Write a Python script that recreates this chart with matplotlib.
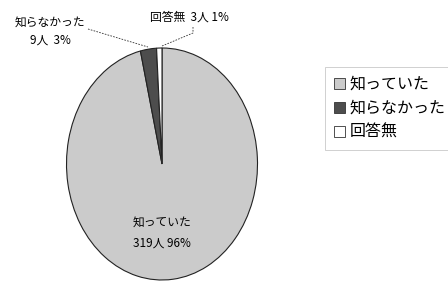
import matplotlib
matplotlib.use('Agg')
import matplotlib.pyplot as plt
from matplotlib.patches import Patch

plt.rcParams['font.family'] = ['Noto Sans CJK JP', 'DejaVu Sans']

labels = ['知っていた', '知らなかった', '回答無']
counts = [319, 9, 3]
percents = [96, 3, 1]
colors = ['#cbcbcb', '#4d4d4d', '#ffffff']

W, H = 448, 284
# ellipse of the pie in pixels
cx, cy, rx, ry = 162, 164, 95.5, 116


def fx(px):
	return px / W


def fy(py):
	return 1 - py / H


fig = plt.figure(figsize=(W / 100, H / 100), dpi=100)
ax = fig.add_axes([0, 0, 1, 1])
wedges, _ = ax.pie(counts, colors=colors, startangle=90, counterclock=False,
	wedgeprops=dict(edgecolor='#222222', linewidth=0.8))
ax.set_aspect('auto')
ax.set_xlim(-cx / rx, (W - cx) / rx)
ax.set_ylim((cy - H) / ry, cy / ry)
ax.axis('off')

# slice labels
fig.text(fx(50), fy(22), labels[1], ha='center', va='center', fontsize=8.5)
fig.text(fx(50), fy(40), '%d人  %d%%' % (counts[1], percents[1]), ha='center', va='center', fontsize=8.5)
fig.text(fx(150), fy(17), '%s  %d人 %d%%' % (labels[2], counts[2], percents[2]), ha='left', va='center', fontsize=8.5)
fig.text(fx(133), fy(222), labels[0], ha='left', va='center', fontsize=8.5)
fig.text(fx(133), fy(243), '%d人 %d%%' % (counts[0], percents[0]), ha='left', va='center', fontsize=8.5)

# leader lines
fig.add_artist(plt.Line2D([fx(88), fx(148)], [fy(29), fy(47)], color='#333333', lw=0.6, ls=(0, (2, 1.5))))
fig.add_artist(plt.Line2D([fx(193), fx(193), fx(162)], [fy(27), fy(33), fy(46)], color='#333333', lw=0.6, ls=(0, (2, 1.5))))

handles = [Patch(facecolor=c, edgecolor='#333333', linewidth=0.6) for c in colors]
leg = fig.legend(handles, labels, loc='upper left', bbox_to_anchor=(fx(325), fy(67)),
	fontsize=11.5, frameon=True, fancybox=False, edgecolor='#bbbbbb',
	handlelength=0.7, handleheight=0.7, handletextpad=0.3, labelspacing=0.45,
	borderpad=0.55, borderaxespad=0)
leg.get_frame().set_linewidth(0.6)

fig.savefig('out.png', dpi=100)
